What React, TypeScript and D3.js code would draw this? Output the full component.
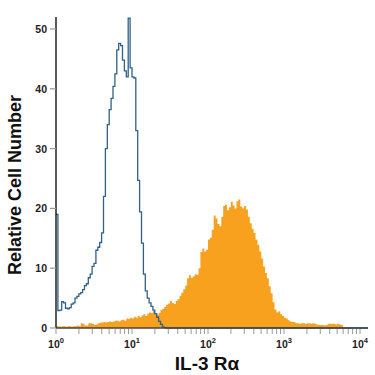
import React from "react";
import * as d3 from "d3";

// Histogram bins: uniform width in log10 units, starting at 10^0
const BIN_LOG = 0.025;

// Isotype control (blue outline)
const controlCounts = [
  19.0, 2.9, 3.0, 4.4, 4.2, 3.3, 3.2, 3.4, 4.0, 4.2,
  5.0, 5.3, 5.7, 5.9, 6.4, 7.1, 7.4, 8.4, 9.0, 10.3,
  10.8, 13.0, 13.5, 14.3, 15.9, 22.0, 30.0, 34.0, 36.5, 38.4,
  40.4, 42.5, 46.5, 47.6, 47.2, 44.8, 43.0, 42.0, 51.8, 43.5,
  42.0, 41.8, 33.0, 24.7, 19.4, 14.2, 9.0, 6.2, 5.0, 4.2,
  3.6, 3.0, 2.4, 1.8, 1.1, 0.6, 0.2, 0.05, 0,
];

// IL-3 R alpha stained (orange filled)
const stainedCounts = [
  0.3, 0.3, 0.2, 0.3, 0.3, 0.2, 0.3, 0.3, 0.2, 0.3,
  0.3, 0.4, 0.3, 0.8, 0.7, 0.4, 0.4, 0.8, 0.8, 0.7,
  0.5, 0.6, 0.8, 0.9, 0.9, 1.0, 0.9, 1.0, 1.1, 1.0,
  1.1, 1.2, 1.2, 1.1, 1.3, 1.4, 1.2, 1.6, 1.5, 1.7,
  1.6, 1.9, 1.7, 2.0, 1.8, 2.1, 2.3, 2.0, 2.4, 2.6,
  2.5, 2.9, 2.4, 2.2, 2.5, 3.0, 3.2, 3.5, 3.9, 4.1,
  4.5, 4.2, 4.0, 4.5, 4.8, 5.4, 5.9, 6.5, 7.1, 8.3,
  8.8, 8.4, 8.6, 9.0, 8.9, 10.0, 12.7, 13.3, 12.8, 13.1,
  14.8, 15.1, 16.4, 18.8, 18.3, 17.4, 17.0, 18.6, 20.4, 20.6,
  19.7, 20.2, 21.1, 20.5, 20.0, 21.2, 21.5, 20.3, 20.0, 20.4,
  19.8, 18.6, 17.5, 16.6, 15.9, 14.8, 13.9, 12.8, 11.6, 10.3,
  9.2, 8.3, 7.0, 5.8, 4.3, 3.1, 2.6, 2.8, 2.3, 2.0,
  1.7, 1.6, 1.3, 1.1, 1.0, 1.0, 0.8, 0.8, 0.7, 0.8,
  0.8, 0.7, 0.8, 0.8, 0.7, 0.8, 0.7, 0.6, 0.5, 0.5,
  0.5, 0.4, 0.5, 0.7, 0.7, 0.7, 0.7, 0.6, 0.7, 0.6,
  0.5,
];

const yTicks = [0, 10, 20, 30, 40, 50];
const xDecades = [0, 1, 2, 3, 4];
const xMinorMultipliers = [2, 3, 4, 5, 6, 7, 8, 9];
const xDomain = [1, Math.pow(10, 4.105)];
const yDomain = [0, 52];

const xTitle = "IL-3 Rα";
const yTitle = "Relative Cell Number";

const W = 375;
const H = 375;
const M = { left: 56, right: 368, top: 17, bottom: 328 };

export default function App() {
  const x = d3.scaleLog().domain(xDomain).range([M.left, M.right]);
  const y = d3.scaleLinear().domain(yDomain).range([M.bottom, M.top]);

  const edge = (i: number) => Math.pow(10, i * BIN_LOG);

  const stainedPts: [number, number][] = stainedCounts.map((v, i) => [edge(i), v]);
  stainedPts.push([edge(stainedCounts.length), stainedCounts[stainedCounts.length - 1]]);
  const area = d3
    .area<[number, number]>()
    .x((d) => x(d[0]))
    .y0(y(0))
    .y1((d) => y(d[1]))
    .curve(d3.curveStepAfter);

  const controlPts: [number, number][] = controlCounts.map((v, i) => [edge(i), v]);
  controlPts.push([xDomain[1], 0]);
  const line = d3
    .line<[number, number]>()
    .x((d) => x(d[0]))
    .y((d) => y(d[1]))
    .curve(d3.curveStepAfter);

  const minorTicks: number[] = [];
  xDecades.slice(0, -1).forEach((k) =>
    xMinorMultipliers.forEach((m) => minorTicks.push(m * Math.pow(10, k)))
  );

  const font = "Liberation Sans, Arial, Helvetica, sans-serif";

  return (
    <svg
      width={W}
      height={H}
      style={{ position: "absolute", left: 0, top: 0, background: "#fff" }}
      fontFamily={font}
    >
      <path d={area(stainedPts) || ""} fill="#f7a11f" stroke="none" />
      <path
        d={line(controlPts) || ""}
        fill="none"
        stroke="#2f6189"
        strokeWidth={1.3}
        strokeLinejoin="miter"
      />

      {/* y axis */}
      <line x1={M.left} x2={M.left} y1={M.top} y2={M.bottom} stroke="#000" strokeWidth={1.3} />
      {yTicks.map((t) => (
        <g key={t}>
          <line x1={M.left - 6} x2={M.left} y1={y(t)} y2={y(t)} stroke="#999" strokeWidth={1.2} />
          <text x={M.left - 9} y={y(t) + 4} textAnchor="end" fontSize={10.5} fontWeight="bold" fill="#222">
            {t}
          </text>
        </g>
      ))}

      {/* x axis */}
      <line x1={M.left} x2={M.right} y1={M.bottom} y2={M.bottom} stroke="#444" strokeWidth={1.5} />
      {minorTicks.map((t) => (
        <line key={t} x1={x(t)} x2={x(t)} y1={M.bottom + 1} y2={M.bottom + 6} stroke="#999" strokeWidth={1} />
      ))}
      {xDecades.map((k) => {
        const v = Math.pow(10, k);
        return (
          <g key={k}>
            <line x1={x(v)} x2={x(v)} y1={M.bottom + 1} y2={M.bottom + 6} stroke="#999" strokeWidth={1} />
            <text x={x(v)} y={348} textAnchor="middle" fontSize={10.5} fontWeight="bold" fill="#222">
              10
              <tspan fontSize={7.5} dy={-5}>
                {k}
              </tspan>
            </text>
          </g>
        );
      })}

      <text x={207} y={370} textAnchor="middle" fontSize={19} fontWeight="bold" fill="#111">
        {xTitle}
      </text>
      <text
        transform={`translate(21,185) rotate(-90)`}
        textAnchor="middle"
        fontSize={18}
        fontWeight="bold"
        fill="#111"
      >
        {yTitle}
      </text>
    </svg>
  );
}
